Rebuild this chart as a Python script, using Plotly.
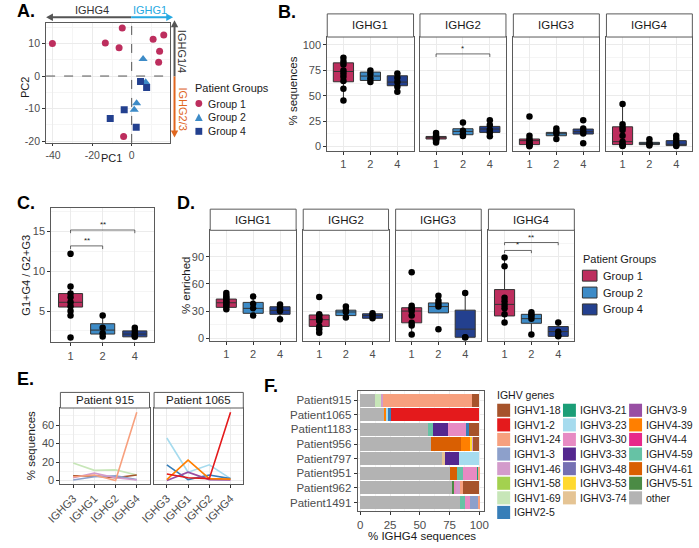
import plotly.graph_objects as go

W, H = 699, 548
FONT = "Liberation Sans, Arial, Helvetica, sans-serif"

# ======================= DATA =======================
GROUP_TICKS = ["1", "2", "4"]
GROUP_NAMES = ["Group 1", "Group 2", "Group 4"]
GROUP_COLORS = ["#BD2E5E", "#3D8BC7", "#23408F"]

# --- Panel A (PCA) ---
A_PC1_G1 = [-40.3, -4.8, -13.4, -6.4, 10.9, 16.3, 14.2, 13.7, -4.1]
A_PC2_G1 = [10.0, 14.7, 10.1, 8.7, 11.3, 12.6, 7.6, 4.2, -18.5]
A_PC1_G2 = [5.8, 7.1, 2.5, 1.3]
A_PC2_G2 = [5.2, -1.9, -8.3, -10.3]
A_PC1_G4 = [4.5, 7.6, -3.8, -10.9, 2.3]
A_PC2_G4 = [-1.7, -3.5, -10.3, -13.0, -15.7]
A_X_TICKS = [-40, -20, 0]
A_Y_TICKS = [-20, -10, 0, 10]

# --- Panel B (% sequences by subclass) ---
B_GENES = ["IGHG1", "IGHG2", "IGHG3", "IGHG4"]
# per group: [lower whisker, q1, median, q3, upper whisker]
B_BOX = {
    "IGHG1": [[45.3, 63.8, 73.9, 82.4, 87.3], [63.5, 65.1, 69.4, 73.3, 75.0], [54.0, 59.9, 63.5, 69.7, 72.0]],
    "IGHG2": [[4.0, 7.5, 8.8, 10.0, 13.5], [10.4, 11.7, 15.0, 17.6, 23.8], [10.1, 14.0, 17.3, 19.9, 26.0]],
    "IGHG3": [[0.3, 2.0, 5.9, 7.5, 10.7], [7.5, 10.7, 12.7, 14.0, 17.9], [13.0, 12.4, 14.7, 17.3, 17.9]],
    "IGHG4": [[0.5, 2.0, 4.9, 19.5, 42.0], [1.0, 2.0, 2.9, 4.2, 7.2], [0.6, 1.0, 2.3, 5.9, 10.7]],
}
B_PTS = {
    "IGHG1": [[87.3, 83.7, 80.8, 74.9, 72.0, 68.7, 64.5, 57.0, 45.3], [75.0, 71.5, 67.0, 63.5], [72.0, 67.7, 63.5, 59.0, 54.0]],
    "IGHG2": [[13.5, 11.0, 9.0, 8.5, 8.0, 7.5, 7.0, 6.0, 4.0], [23.8, 15.6, 12.4, 10.4], [26.0, 21.2, 16.6, 14.0, 10.1]],
    "IGHG3": [[29.6, 10.7, 7.5, 6.0, 4.0, 3.0, 2.0, 1.0, 0.3], [17.9, 15.0, 13.0, 7.5], [26.0, 17.9, 15.0, 13.0, 3.3]],
    "IGHG4": [[42.0, 22.0, 18.9, 16.3, 10.7, 4.9, 2.3, 1.0, 0.5], [7.2, 3.9, 2.3, 1.0], [10.7, 7.5, 4.2, 1.6, 0.6]],
}
B_SIG = [("IGHG2", 1, 3, 91.2, "*")]
B_Y_TICKS = [0, 25, 50, 75, 100]

# --- Panel C (ratio) ---
C_BOX = [[4.45, 5.5, 6.1, 7.2, 8.1], [1.8, 2.1, 2.6, 3.4, 4.45], [1.75, 1.75, 2.1, 2.5, 2.9]]
C_PTS = [[12.2, 8.1, 7.2, 6.75, 6.1, 5.6, 5.0, 4.45, 1.66], [4.45, 2.9, 2.2, 1.8], [2.9, 2.5, 2.1, 1.9, 1.75]]
C_SIG = [(1, 2, 13.2, "**"), (1, 3, 15.2, "**")]
C_Y_TICKS = [5, 10, 15]

# --- Panel D (% enriched) ---
D_BOX = {
    "IGHG1": [[32.0, 34.1, 39.2, 43.3, 50.0], [25.0, 27.5, 33.0, 39.6, 46.2], [20.9, 26.4, 30.8, 34.8, 37.4]],
    "IGHG2": [[6.0, 13.0, 20.5, 25.7, 26.4], [23.0, 25.0, 29.0, 31.0, 35.0], [22.0, 22.0, 25.0, 27.0, 27.5]],
    "IGHG3": [[4.0, 17.0, 30.0, 33.7, 36.0], [28.0, 28.0, 35.0, 39.0, 47.0], [0.8, 1.0, 10.0, 31.0, 50.0]],
    "IGHG4": [[17.3, 24.6, 37.4, 53.8, 89.4], [4.0, 16.5, 21.6, 26.4, 28.6], [2.0, 2.0, 7.3, 12.9, 17.3]],
}
D_PTS = {
    "IGHG1": [[50, 47, 45, 43, 41, 39, 37, 35, 32], [46.2, 38, 33, 25], [37.4, 34.5, 32, 30, 20.9]],
    "IGHG2": [[45.5, 26.4, 25, 22, 20.5, 19, 13, 10, 6], [35, 31, 29, 23], [27.5, 25, 22]],
    "IGHG3": [[73, 36, 33, 32.6, 30, 25, 17, 14, 4], [47, 41.4, 38, 35, 10], [50, 1, 0.8]],
    "IGHG4": [[89.4, 79.5, 44.7, 41, 36.7, 33, 26.4, 17.3], [28.6, 26, 24.6, 21.6, 4], [17.3, 7, 3, 2]],
}
D_SIG = [("IGHG4", 1, 2, 97.1, "*"), ("IGHG4", 1, 3, 105.9, "**")]
D_Y_TICKS = [0, 30, 60, 90]

# --- IGHV gene palette ---
IGHV_GENES = ["IGHV1-18", "IGHV1-2", "IGHV1-24", "IGHV1-3", "IGHV1-46", "IGHV1-58", "IGHV1-69", "IGHV2-5",
              "IGHV3-21", "IGHV3-23", "IGHV3-30", "IGHV3-33", "IGHV3-48", "IGHV3-53", "IGHV3-74",
              "IGHV3-9", "IGHV4-39", "IGHV4-4", "IGHV4-59", "IGHV4-61", "IGHV5-51", "other"]
IGHV_COLORS = ["#A6532B", "#E41A1C", "#F7A07E", "#8DA0CB", "#D39BCB", "#A3D14F", "#C7E6B8", "#377EB8",
               "#1B9E77", "#A6DBEE", "#E78AC3", "#54278F", "#7570B3", "#FFD92F", "#E5C494",
               "#984EA3", "#FF7F00", "#E7298A", "#66C2A5", "#D95F02", "#4B8B45", "#B3B3B3"]

# --- Panel E (lines) ---
E_CATS = ["IGHG3", "IGHG1", "IGHG2", "IGHG4"]
E_PATIENTS = ["Patient 915", "Patient 1065"]
E_915 = {"IGHV1-69": [19, 11, 11.5, 6], "IGHV1-18": [5, 5, 3, 6], "IGHV1-3": [0.5, 4, 5, 1],
         "IGHV1-46": [3, 8, 3, 0.5], "IGHV1-24": [4, 6, 0, 74]}
E_1065 = {"IGHV3-23": [46, 9, 17, 2], "IGHV2-5": [17, 1, 6, 2], "IGHV3-9": [0, 9, 1, 0.5],
          "IGHV4-39": [1, 22, 2, 1.5], "IGHV1-2": [7, 3, 2, 74]}
E_Y_TICKS = [0, 20, 40, 60]

# --- Panel F (stacked bars) ---
F_PATIENTS = ["Patient915", "Patient1065", "Patient1183", "Patient956",
              "Patient797", "Patient951", "Patient962", "Patient1491"]
F_VALUES = {
    "other":    [12.0, 20.2, 56.7, 59.7, 68.7, 75.8, 76.9, 83.7],
    "IGHV5-51": [0, 0, 0, 0, 0, 0, 1.6, 0],
    "IGHV4-61": [0, 0, 0, 24.8, 0, 5.7, 0, 0],
    "IGHV4-59": [0, 0, 4.6, 0, 0, 4.9, 0, 4.1],
    "IGHV4-39": [0, 1.9, 0, 7.9, 0, 0, 0, 0],
    "IGHV3-74": [0, 0, 0, 0, 2.7, 0, 0, 0],
    "IGHV3-53": [0, 0, 0, 1.6, 0, 0, 0, 0],
    "IGHV3-33": [0, 0, 12.3, 0, 11.4, 0, 0, 0],
    "IGHV3-30": [0, 0, 15.5, 0, 0, 11.7, 1.6, 4.6],
    "IGHV3-23": [0, 1.1, 0, 0, 17.2, 0, 0, 0],
    "IGHV3-21": [0, 0, 0, 0, 0, 1.1, 0, 0],
    "IGHV2-5":  [0, 2.7, 2.2, 0, 0, 0, 0, 0],
    "IGHV1-69": [5.7, 0, 0, 0, 0, 0, 0, 0],
    "IGHV1-46": [1.4, 0, 0, 1.1, 0, 0, 3.6, 0],
    "IGHV1-3":  [0, 0, 0, 0, 0, 0, 0, 6.3],
    "IGHV1-24": [74.9, 0, 0, 0, 0, 0.8, 2.7, 1.3],
    "IGHV1-2":  [0, 74.1, 0, 0, 0, 0, 0, 0],
    "IGHV1-18": [6.0, 0, 8.7, 4.9, 0, 0, 13.6, 0],
}
F_X_TICKS = [0, 25, 50, 75, 100]

# ======================= HELPERS =======================
def fx(p):
    return p / W


def fy(p):
    return 1 - p / H


GCOL = dict(zip(IGHV_GENES, IGHV_COLORS))
BORDER = "#5A5A5A"
GRID = "#EBEBEB"
GRIDM = "#F5F5F5"
TICKC = "#4D4D4D"

fig = go.Figure()
layout_axes = {}
shapes = []
annots = []


def axes(n, xpx, ypx, xr, yr, xtv=None, xtt=None, ytv=None, ytt=None, yminor=None, xminor=None,
         showy=True, xangle=0, tfs=11, ycat=None):
    s = "" if n == 1 else str(n)
    common = dict(showline=True, mirror=True, linecolor=BORDER, linewidth=1, ticks="outside", ticklen=3,
                  tickcolor="#333333", tickwidth=1, showgrid=True, gridcolor=GRID, gridwidth=1,
                  zeroline=False, fixedrange=True,
                  tickfont=dict(size=tfs, color=TICKC, family=FONT))
    xa = dict(common, domain=[fx(xpx[0]), fx(xpx[1])], range=xr, anchor="y" + s, tickangle=xangle)
    if xtv is not None:
        xa.update(tickmode="array", tickvals=xtv, ticktext=xtt if xtt is not None else [str(v) for v in xtv])
    if xminor is not None:
        xa["minor"] = dict(tickvals=xminor, showgrid=True, gridcolor=GRIDM, ticks="")
    ya = dict(common, domain=[fy(ypx[1]), fy(ypx[0])], range=yr, anchor="x" + s)
    if ycat is not None:
        ya.update(type="category", categoryorder="array", categoryarray=ycat)
    if ytv is not None:
        ya.update(tickmode="array", tickvals=ytv, ticktext=ytt if ytt is not None else [str(v) for v in ytv])
    if yminor is not None:
        ya["minor"] = dict(tickvals=yminor, showgrid=True, gridcolor=GRIDM, ticks="")
    if not showy:
        ya.update(showticklabels=False, ticks="")
    layout_axes["xaxis" + s] = xa
    layout_axes["yaxis" + s] = ya
    return "x" + s, "y" + s


def strip(xpx, ypx, text, fs=11.5):
    shapes.append(dict(type="rect", xref="paper", yref="paper", x0=fx(xpx[0]), x1=fx(xpx[1]),
                       y0=fy(ypx[1]), y1=fy(ypx[0]), fillcolor="white",
                       line=dict(color=BORDER, width=1), layer="above"))
    annots.append(dict(xref="paper", yref="paper", x=fx((xpx[0] + xpx[1]) / 2), y=fy((ypx[0] + ypx[1]) / 2),
                       text=text, showarrow=False, xanchor="center", yanchor="middle",
                       font=dict(size=fs, color="#1A1A1A", family=FONT)))


def text(xp, yp, t, fs=11, color="#1A1A1A", xa="center", ya="middle", angle=0, bold=False):
    annots.append(dict(xref="paper", yref="paper", x=fx(xp), y=fy(yp), text=("<b>%s</b>" % t) if bold else t,
                       showarrow=False, xanchor=xa, yanchor=ya, textangle=angle,
                       font=dict(size=fs, color=color, family=FONT)))


def path(points, color):
    d = "M " + " L ".join("%f %f" % (fx(a), fy(b)) for a, b in points) + " Z"
    shapes.append(dict(type="path", xref="paper", yref="paper", path=d, fillcolor=color,
                       line=dict(width=0)))


def pline(x0, y0, x1, y1, color, width=2):
    shapes.append(dict(type="line", xref="paper", yref="paper", x0=fx(x0), y0=fy(y0), x1=fx(x1), y1=fy(y1),
                       line=dict(color=color, width=width)))


def boxes(xa_, ya_, stats, pts, size=6.5):
    for i, st in enumerate(stats):
        fig.add_trace(go.Box(x=[i + 1], lowerfence=[st[0]], q1=[st[1]], median=[st[2]], q3=[st[3]],
                             upperfence=[st[4]], fillcolor=GROUP_COLORS[i],
                             line=dict(color="#333333", width=1), whiskerwidth=0, width=0.75,
                             boxpoints=False, xaxis=xa_, yaxis=ya_, showlegend=False, hoverinfo="skip"))
    for i, p in enumerate(pts):
        fig.add_trace(go.Scatter(x=[i + 1] * len(p), y=p, mode="markers",
                                 marker=dict(color="black", size=size), xaxis=xa_, yaxis=ya_,
                                 showlegend=False, hoverinfo="skip"))


def sig(xa_, ya_, a, b, yv, tick, label, fs=8):
    fig.add_trace(go.Scatter(x=[a, a, b, b], y=[yv - tick, yv, yv, yv - tick], mode="lines",
                             line=dict(color="#444444", width=0.8), xaxis=xa_, yaxis=ya_,
                             showlegend=False, hoverinfo="skip"))
    annots.append(dict(xref=xa_, yref=ya_, x=(a + b) / 2, y=yv, text=label, showarrow=False,
                       yanchor="bottom", yshift=-1, font=dict(size=fs, color="#222222", family=FONT)))


# ======================= PANEL A =======================
xa_, ya_ = axes(1, (33, 160), (23, 144), [-43.5, 19.3], [-20.5, 16.3], xtv=A_X_TICKS, ytv=A_Y_TICKS,
                xminor=[-30, -10, 10], yminor=[-15, -5, 5, 15], tfs=10.5)
layout_axes["xaxis"]["ticklen"] = 2
for xs, ys, col, sym, sz in [(A_PC1_G1, A_PC2_G1, GROUP_COLORS[0], "circle", 7),
                             (A_PC1_G2, A_PC2_G2, GROUP_COLORS[1], "triangle-up", 8),
                             (A_PC1_G4, A_PC2_G4, GROUP_COLORS[2], "square", 7)]:
    fig.add_trace(go.Scatter(x=xs, y=ys, mode="markers", marker=dict(color=col, size=sz, symbol=sym),
                             xaxis=xa_, yaxis=ya_, showlegend=False, hoverinfo="skip"))
shapes.append(dict(type="line", xref="x", yref="y domain", x0=0, x1=0, y0=0, y1=1,
                   line=dict(color="#555555", width=1, dash="dash")))
shapes.append(dict(type="line", xref="x domain", yref="y", x0=0, x1=1, y0=0, y1=0,
                   line=dict(color="#555555", width=1, dash="dash")))
# direction arrows (drawn as shapes)
AR_Y, AR_X = 17.3, 165.0
pline(39, AR_Y, 120.5, AR_Y, "#555555")
pline(120.5, AR_Y, 157.5, AR_Y, "#27A9E1")
path([(33, AR_Y), (40, AR_Y - 3.8), (40, AR_Y + 3.8)], "#555555")
path([(163.5, AR_Y), (156.5, AR_Y - 3.8), (156.5, AR_Y + 3.8)], "#27A9E1")
pline(AR_X, 26.5, AR_X, 77, "#555555")
pline(AR_X, 77, AR_X, 132, "#E0661E")
path([(AR_X, 20.5), (AR_X - 3.8, 27.5), (AR_X + 3.8, 27.5)], "#555555")
path([(AR_X, 138.5), (AR_X - 3.8, 131.5), (AR_X + 3.8, 131.5)], "#E0661E")
text(80, 10.5, "IGHG4", fs=11, color="#333333")
text(140, 10.5, "IGHG1", fs=11, color="#27A9E1")
text(173.5, 52, "IGHG1/4", fs=11, color="#333333", angle=90)
text(173.5, 110, "IGHG2/3", fs=11, color="#E0661E", angle=90)
text(100, 159, "PC1", fs=11)
text(12, 88, "PC2", fs=11, angle=-90)
# legend A
text(184, 89, "Patient Groups", fs=11, xa="left")
for i, yy in enumerate([104.3, 118.3, 132.3]):
    cx = 190
    if i == 0:
        shapes.append(dict(type="circle", xref="paper", yref="paper", x0=fx(cx - 3.5), x1=fx(cx + 3.5),
                           y0=fy(yy + 3.5), y1=fy(yy - 3.5), fillcolor=GROUP_COLORS[0], line=dict(width=0)))
    elif i == 1:
        path([(cx - 4, yy + 3.5), (cx + 4, yy + 3.5), (cx, yy - 4)], GROUP_COLORS[1])
    else:
        shapes.append(dict(type="rect", xref="paper", yref="paper", x0=fx(cx - 3.5), x1=fx(cx + 3.5),
                           y0=fy(yy + 3.5), y1=fy(yy - 3.5), fillcolor=GROUP_COLORS[2], line=dict(width=0)))
    text(197, yy, GROUP_NAMES[i], fs=10.5, xa="left")

# ======================= PANEL B =======================
B_X = [(322, 410.7), (417.3, 505.7), (513.3, 601.7), (609, 697.3)]
for k, g in enumerate(B_GENES):
    xa_, ya_ = axes(2 + k, B_X[k], (37.3, 151.7), [0.4, 3.6], [-3.9, 107.8], xtv=[1, 2, 3], xtt=GROUP_TICKS,
                    ytv=B_Y_TICKS, yminor=[12.5, 37.5, 62.5, 87.5], showy=(k == 0))
    boxes(xa_, ya_, B_BOX[g], B_PTS[g])
    for (gg, a, b, yv, lab) in B_SIG:
        if gg == g:
            sig(xa_, ya_, a, b, yv, 3, lab)
    strip(B_X[k], (14, 37.3), g)
text(287, 92, "% sequences", fs=11.5, angle=-90)

# ======================= PANEL C =======================
xa_, ya_ = axes(6, (38.3, 144), (209.3, 345), [0.4, 3.6], [1.04, 18], xtv=[1, 2, 3], xtt=GROUP_TICKS,
                ytv=C_Y_TICKS, yminor=[2.5, 7.5, 12.5, 17.5])
boxes(xa_, ya_, C_BOX, C_PTS)
for (a, b, yv, lab) in C_SIG:
    sig(xa_, ya_, a, b, yv, 0.4, lab)
text(12, 277, "G1+G4 / G2+G3", fs=11, angle=-90)

# ======================= PANEL D =======================
D_X = [(201.7, 290), (297.3, 385), (392.3, 480.3), (487.7, 576)]
for k, g in enumerate(B_GENES):
    xa_, ya_ = axes(7 + k, D_X[k], (232, 343.3), [0.4, 3.6], [-2.9, 119.4], xtv=[1, 2, 3], xtt=GROUP_TICKS,
                    ytv=D_Y_TICKS, yminor=[15, 45, 75, 105], showy=(k == 0))
    boxes(xa_, ya_, D_BOX[g], D_PTS[g])
    for (gg, a, b, yv, lab) in D_SIG:
        if gg == g:
            sig(xa_, ya_, a, b, yv, 3, lab)
    strip(D_X[k], (210.7, 232), g)
text(177, 287, "% enriched", fs=11.5, angle=-90)
# legend D
text(582.5, 261, "Patient Groups", fs=11, xa="left")
for i, yy in enumerate([277.7, 294.7, 311.7]):
    shapes.append(dict(type="rect", xref="paper", yref="paper", x0=fx(584.3), x1=fx(599.3),
                       y0=fy(yy + 5.5), y1=fy(yy - 5.5), fillcolor=GROUP_COLORS[i],
                       line=dict(color="#333333", width=1)))
    text(603.3, yy, GROUP_NAMES[i], fs=11, xa="left")

# ======================= PANEL E =======================
E_X = [(47.7, 139.3), (144, 235.7)]
for k, (pname, series) in enumerate(zip(E_PATIENTS, [E_915, E_1065])):
    xa_, ya_ = axes(11 + k, E_X[k], (411, 487.3), [0.4, 4.6], [-3.5, 78.5], xtv=[1, 2, 3, 4], xtt=E_CATS,
                    ytv=E_Y_TICKS, yminor=[10, 30, 50, 70], showy=(k == 0), xangle=-45, tfs=11)
    for gene, vals in series.items():
        fig.add_trace(go.Scatter(x=[1, 2, 3, 4], y=vals, mode="lines",
                                 line=dict(color=GCOL[gene], width=1.6), xaxis=xa_, yaxis=ya_,
                                 showlegend=False, hoverinfo="skip"))
    strip(E_X[k], (395.3, 411), pname, fs=11.5)
text(17, 449, "% sequences", fs=11.5, angle=-90)

# ======================= PANEL F =======================
xa_, ya_ = axes(13, (353.3, 483.3), (394.3, 515), [-2.2, 104.1], [-0.6, 7.6], xtv=F_X_TICKS,
                xminor=[12.5, 37.5, 62.5, 87.5], ycat=F_PATIENTS[::-1], tfs=11.5)
for gene, vals in F_VALUES.items():
    fig.add_trace(go.Bar(y=F_PATIENTS, x=vals, orientation="h", marker=dict(color=GCOL[gene], line=dict(width=0)),
                         xaxis=xa_, yaxis=ya_, showlegend=False, hoverinfo="skip"))
text(419.5, 540, "% IGHG4 sequences", fs=11.5)
# legend F
text(494, 398.3, "IGHV genes", fs=10.5, xa="left")
col_sw = [496.7, 564.3, 632.3]
rows_y = [413.3, 428.0, 442.7, 457.4, 472.1, 486.8, 501.5, 516.2]
layout_cols = [IGHV_GENES[0:8], IGHV_GENES[8:15], IGHV_GENES[15:22]]
for c, genes in enumerate(layout_cols):
    for r, gname in enumerate(genes):
        yy = rows_y[r]
        shapes.append(dict(type="rect", xref="paper", yref="paper", x0=fx(col_sw[c]), x1=fx(col_sw[c] + 13.3),
                           y0=fy(yy + 6.6), y1=fy(yy - 6.6), fillcolor=GCOL[gname], line=dict(width=0)))
        text(col_sw[c] + 15, yy, gname, fs=10.5, xa="left")

# ======================= PANEL LABELS =======================
for lab, xp, yp in [("A.", 1, 11), ("B.", 269, 12), ("C.", 1, 204), ("D.", 166, 204),
                    ("E.", 1, 382), ("F.", 255, 389)]:
    text(xp, yp, lab, fs=18, color="black", xa="left", bold=True)

fig.update_layout(width=W, height=H, margin=dict(l=0, r=0, t=0, b=0), paper_bgcolor="white",
                  plot_bgcolor="white", showlegend=False, barmode="stack", bargap=0.1,
                  font=dict(family=FONT), shapes=shapes, annotations=annots, **layout_axes)
fig.write_html("out.html")
